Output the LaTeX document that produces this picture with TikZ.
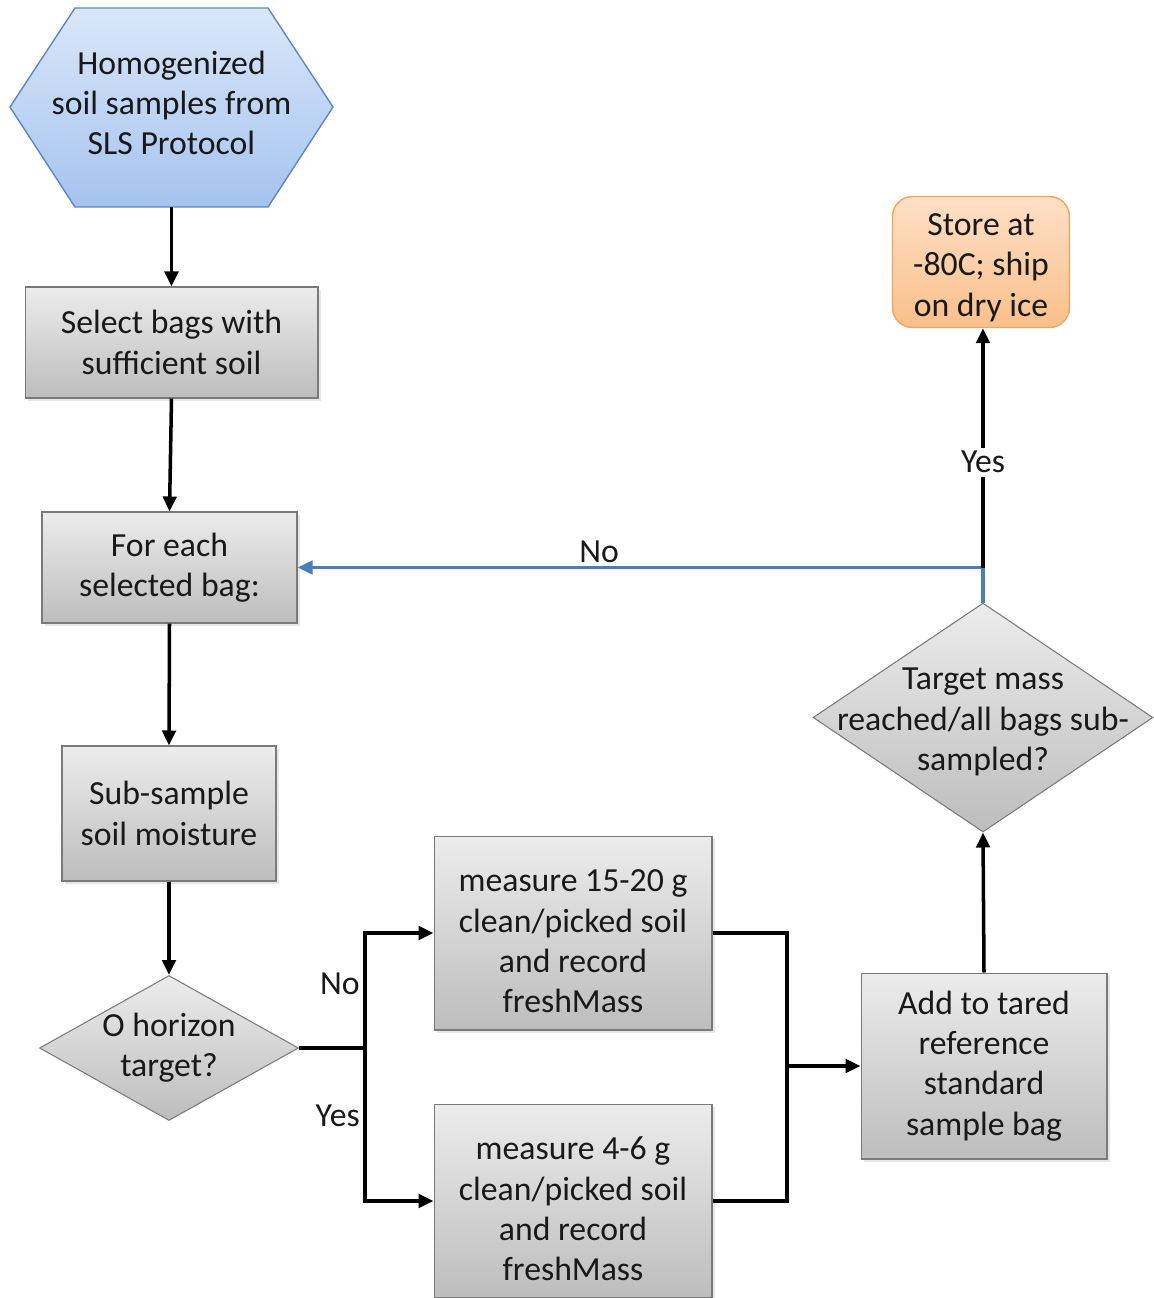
\documentclass[tikz,border=0pt]{standalone}
\usepackage{fontspec}
\setmainfont{Carlito}
\usepackage{tikz}
\usetikzlibrary{arrows.meta}
\usetikzlibrary{shapes.geometric,shadows}

\definecolor{hexline}{HTML}{5B88C8}
\definecolor{hextop}{HTML}{DAE7F9}
\definecolor{hexbot}{HTML}{A5C3EF}
\definecolor{grayline}{HTML}{7A7A7A}
\definecolor{graytop}{HTML}{ECECEC}
\definecolor{graybot}{HTML}{BDBDBD}
\definecolor{orgline}{HTML}{F2A45A}
\definecolor{orgtop}{HTML}{FEE0C6}
\definecolor{orgbot}{HTML}{F9BF8A}
\definecolor{noline}{HTML}{4A7EBB}

\begin{document}
\begin{tikzpicture}[x=0.02cm,y=-0.02cm,
    every node/.style={font=\fontsize{19.2}{22.9}\selectfont,text=black!90,align=center},
    graybox/.style={rectangle,draw=grayline,line width=0.6pt,top color=graytop,bottom color=graybot,
        drop shadow={shadow xshift=1.5pt,shadow yshift=-1.5pt,opacity=0.2}},
    graydiam/.style={diamond,draw=grayline,line width=0.6pt,top color=graytop,bottom color=graybot,inner sep=0pt},
    storebox/.style={rectangle,rounded corners=0.4cm,draw=orgline,line width=0.8pt,top color=orgtop,bottom color=orgbot},
    flow/.style={line width=2pt,black},
    arr/.style={flow,-{Triangle[length=0.3cm,width=0.27cm]}},
    noarr/.style={line width=1.8pt,noline,-{Triangle[length=0.3cm,width=0.27cm]}},
    lbl/.style={inner sep=2pt}]
    \useasboundingbox (0,0) rectangle (1153,1298);

    \draw[hexline,line width=0.8pt,top color=hextop,bottom color=hexbot]
        (10,107) -- (75,8) -- (268,8) -- (333,107) -- (268,207) -- (75,207) -- cycle;
    \coordinate (hexb) at (171.5,207);
    \node (hex) at (171.5,103) {Homogenized\\soil samples from\\SLS Protocol};

    \node[graybox,minimum width=5.86cm,minimum height=2.22cm] (sel) at (171.5,342.5) {Select bags with\\sufficient soil};
    \node[graybox,minimum width=5.1cm,minimum height=2.22cm] (each) at (169.5,567.5) {For each\\selected bag:};
    \node[graybox,minimum width=4.28cm,minimum height=2.7cm] (sub) at (169,813.5) {Sub-sample\\soil moisture};
    \node[graydiam,minimum width=5.18cm,minimum height=2.9cm] (oh) at (169,1048) {};
    \node (ohtxt) at (oh) {O horizon\\target?};
    \node[graybox,minimum width=5.56cm,minimum height=3.88cm] (big) at (573,933) {\rule{0pt}{22pt}measure 15-20 g\\clean/picked soil\\and record\\freshMass};
    \node[graybox,minimum width=5.56cm,minimum height=3.88cm] (small) at (573,1201) {\rule{0pt}{22pt}measure 4-6 g\\clean/picked soil\\and record\\freshMass};
    \node[graybox,minimum width=4.92cm,minimum height=3.72cm] (add) at (984,1066) {Add to tared\\reference\\standard\\sample bag};
    \node[graydiam,minimum width=6.8cm,minimum height=4.58cm] (tgt) at (983,717.5) {};
    \node (tgttxt) at (983,722) {Target mass\\reached/all bags sub-\\sampled?};
    \node[storebox,minimum width=3.54cm,minimum height=2.6cm] (store) at (981,262) {\rule{0pt}{19pt}Store at\\-80C; ship\\on dry ice};

    \coordinate (split) at (365,1048);
    \coordinate (join) at (787,1066);

    \draw[arr] (hexb) -- (sel.north);
    \draw[arr] (sel.south) -- (each.north);
    \draw[arr] (each.south) -- (sub.north);
    \draw[arr] (sub.south) -- (oh.north);
    \draw[flow] (oh.east) -- (split);
    \draw[arr] (split) |- (big.west) node[lbl,pos=0.28,left] {No};
    \draw[arr] (split) |- (small.west) node[lbl,pos=0.22,left] {Yes};
    \draw[flow] (big.east) -| (join);
    \draw[flow] (small.east) -| (join);
    \draw[arr] (join) -- (add.west);
    \draw[arr] (add.north) -- (tgt.south);
    \draw[noarr] (tgt.north) |- (each.east) node[lbl,pos=0.78,above] {No};
    \draw[arr] (tgt.north |- each.east) -- (tgt.north |- store.south) node[lbl,pos=0.44,fill=white] {Yes};
\end{tikzpicture}
\end{document}
